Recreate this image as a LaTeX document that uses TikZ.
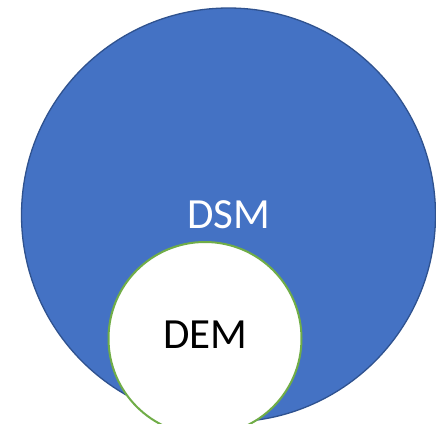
\documentclass[tikz,border=0pt]{standalone}
\usepackage{fontspec}
\setmainfont{Carlito}
\definecolor{dsmfill}{HTML}{4472C4}
\definecolor{dsmline}{HTML}{2F528F}
\definecolor{demline}{HTML}{70AD47}
\begin{document}
\begin{tikzpicture}[x=1pt,y=-1pt,
  bigc/.style={circle,fill=dsmfill,draw=dsmline,line width=1.3pt,minimum size=414pt,inner sep=0pt},
  smallc/.style={circle,fill=white,draw=demline,line width=2pt,minimum size=193pt,inner sep=0pt},
  lbl/.style={font=\fontsize{43}{43}\selectfont,anchor=base,inner sep=0pt}]
\useasboundingbox (0,0) rectangle (436,423);
\clip (0,0) rectangle (436,423);
\node[bigc] (dsm) at (228.5,215) {};
\node[smallc] (dem) at (205,338.5) {};
\node[lbl,text=white] (dsmlabel) at (228.5,228.5) {DSM};
\node[lbl,text=black] (demlabel) at (205.3,348.3) {DEM};
\end{tikzpicture}
\end{document}
